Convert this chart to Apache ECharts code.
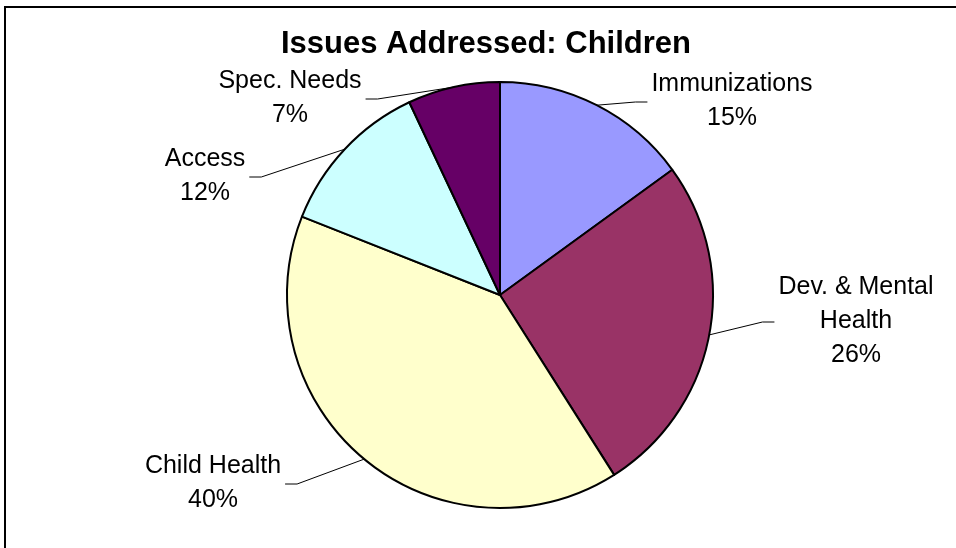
<!DOCTYPE html>
<html>
<head>
<meta charset="utf-8">
<script src="https://cdn.jsdelivr.net/npm/echarts@6/dist/echarts.min.js"></script>
<style>
  html, body { margin: 0; padding: 0; background: #ffffff; }
  #chart { width: 956px; height: 548px; }
</style>
</head>
<body>
<div id="chart"></div>
<script>
// Share of issues addressed for children, in percent (clockwise from 12 o'clock)
const categories = ['Immunizations', 'Dev. & Mental\nHealth', 'Child Health', 'Access', 'Spec. Needs'];
const shares = [15, 26, 40, 12, 7];
const sliceColors = ['#9999FF', '#993366', '#FFFFCC', '#CCFFFF', '#660066'];

// Where each label block is centred, in pixels
const labelSpots = [[732, 101], [856, 321], [213, 483], [205, 176], [290, 98]];

const FONT = '"Liberation Sans", Arial, Helvetica, sans-serif';

const chart = echarts.init(document.getElementById('chart'), null, { renderer: 'canvas' });

chart.setOption({
  backgroundColor: '#ffffff',
  animation: false,
  title: {
    text: 'Issues Addressed: Children',
    left: 486,
    top: 44,
    padding: 0,
    textAlign: 'center',
    textVerticalAlign: 'middle',
    textStyle: { fontFamily: FONT, fontSize: 31, fontWeight: 'bold', color: '#000000' }
  },
  graphic: [{
    type: 'rect',
    silent: true,
    shape: { x: 5, y: 7, width: 1000, height: 600 },
    style: { fill: 'none', stroke: '#000000', lineWidth: 2 }
  }],
  series: [{
    type: 'pie',
    center: [500, 295],
    radius: 213,
    startAngle: 90,
    clockwise: true,
    avoidLabelOverlap: false,
    data: categories.map((name, i) => ({
      name: name,
      value: shares[i],
      itemStyle: { color: sliceColors[i] }
    })),
    itemStyle: { borderColor: '#000000', borderWidth: 2 },
    label: {
      show: true,
      position: 'outside',
      formatter: '{b}\n{c}%',
      fontFamily: FONT,
      fontSize: 25,
      lineHeight: 34,
      color: '#000000'
    },
    labelLine: {
      show: true,
      length: 10,
      length2: 10,
      smooth: false,
      lineStyle: { color: '#000000', width: 1 }
    },
    labelLayout: function (p) {
      const spot = labelSpots[p.dataIndex];
      const pts = p.labelLinePoints;
      const edge = pts && pts[0];
      const dir = edge && edge[0] < spot[0] ? -1 : 1;
      const attach = [spot[0] + dir * (p.labelRect.width / 2 + 4), spot[1] + 1];
      const elbow = [attach[0] + dir * 12, attach[1]];
      const out = { x: spot[0], y: spot[1], align: 'center', verticalAlign: 'middle' };
      if (edge) out.labelLinePoints = [edge, elbow, attach];
      return out;
    }
  }]
});
</script>
</body>
</html>
